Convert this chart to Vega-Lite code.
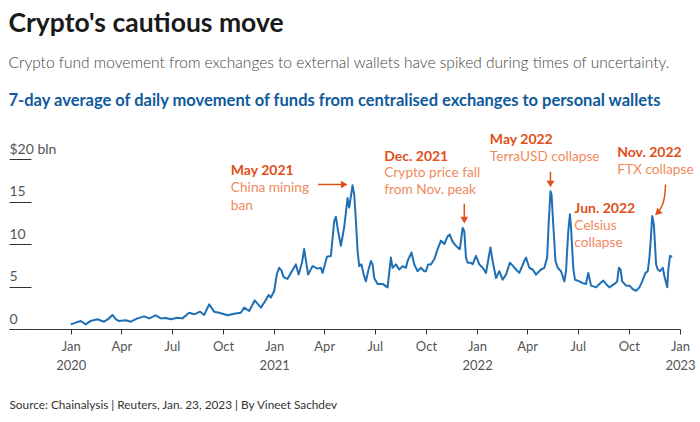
{
  "$schema": "https://vega.github.io/schema/vega-lite/v6.json",
  "background": "white",
  "padding": {"left": 8, "top": 10, "right": 8, "bottom": 8},
  "title": {
    "text": "Crypto's cautious move",
    "subtitle": "Crypto fund movement from exchanges to external wallets have spiked during times of uncertainty.",
    "anchor": "start",
    "font": "Lato",
    "fontSize": 26.5,
    "fontWeight": "bold",
    "color": "#1a1a1a",
    "subtitleFont": "Lato",
    "subtitleFontSize": 15.5,
    "subtitleFontWeight": 300,
    "subtitleColor": "#444444",
    "subtitlePadding": 19,
    "offset": 21
  },
  "datasets": {
    "series": [
      {"date": "2020-01-01", "value": 0.55}, {"date": "2020-01-10", "value": 0.75}, {"date": "2020-01-19", "value": 0.94},
      {"date": "2020-01-28", "value": 0.55}, {"date": "2020-02-06", "value": 0.95}, {"date": "2020-02-18", "value": 1.14},
      {"date": "2020-02-24", "value": 1.0}, {"date": "2020-03-01", "value": 0.86}, {"date": "2020-03-09", "value": 1.2},
      {"date": "2020-03-16", "value": 1.65}, {"date": "2020-03-22", "value": 1.15}, {"date": "2020-03-28", "value": 0.94},
      {"date": "2020-04-09", "value": 1.02}, {"date": "2020-04-18", "value": 0.86}, {"date": "2020-04-30", "value": 1.25},
      {"date": "2020-05-12", "value": 1.49}, {"date": "2020-05-21", "value": 1.25}, {"date": "2020-06-02", "value": 1.61},
      {"date": "2020-06-11", "value": 1.25}, {"date": "2020-06-20", "value": 1.3}, {"date": "2020-06-29", "value": 1.14},
      {"date": "2020-07-11", "value": 1.33}, {"date": "2020-07-20", "value": 1.25}, {"date": "2020-08-01", "value": 1.92},
      {"date": "2020-08-10", "value": 1.73}, {"date": "2020-08-21", "value": 2.04}, {"date": "2020-08-28", "value": 1.65},
      {"date": "2020-09-06", "value": 2.9}, {"date": "2020-09-15", "value": 2.04}, {"date": "2020-09-24", "value": 1.92},
      {"date": "2020-10-09", "value": 1.61}, {"date": "2020-10-21", "value": 1.8}, {"date": "2020-11-02", "value": 1.92},
      {"date": "2020-11-08", "value": 2.51}, {"date": "2020-11-17", "value": 2.12}, {"date": "2020-11-27", "value": 3.37},
      {"date": "2020-12-08", "value": 2.51}, {"date": "2020-12-14", "value": 3.1}, {"date": "2020-12-22", "value": 4.0},
      {"date": "2020-12-26", "value": 3.7}, {"date": "2021-01-01", "value": 4.47}, {"date": "2021-01-06", "value": 6.5},
      {"date": "2021-01-10", "value": 7.2}, {"date": "2021-01-14", "value": 6.9}, {"date": "2021-01-18", "value": 6.1},
      {"date": "2021-01-25", "value": 5.9}, {"date": "2021-01-31", "value": 6.6}, {"date": "2021-02-09", "value": 7.6},
      {"date": "2021-02-14", "value": 6.4}, {"date": "2021-02-20", "value": 7.8}, {"date": "2021-02-24", "value": 9.4},
      {"date": "2021-03-03", "value": 6.4}, {"date": "2021-03-11", "value": 7.4}, {"date": "2021-03-20", "value": 7.1},
      {"date": "2021-03-26", "value": 7.2}, {"date": "2021-03-29", "value": 6.6}, {"date": "2021-04-06", "value": 8.5},
      {"date": "2021-04-13", "value": 8.6}, {"date": "2021-04-19", "value": 12.7}, {"date": "2021-04-22", "value": 13.2},
      {"date": "2021-04-26", "value": 11.5}, {"date": "2021-05-01", "value": 9.8}, {"date": "2021-05-07", "value": 12.0},
      {"date": "2021-05-13", "value": 15.4}, {"date": "2021-05-16", "value": 14.3}, {"date": "2021-05-22", "value": 16.9},
      {"date": "2021-05-25", "value": 15.8}, {"date": "2021-05-28", "value": 12.7}, {"date": "2021-05-31", "value": 9.2},
      {"date": "2021-06-03", "value": 7.4}, {"date": "2021-06-07", "value": 7.6}, {"date": "2021-06-11", "value": 6.4},
      {"date": "2021-06-15", "value": 5.6}, {"date": "2021-06-19", "value": 6.8}, {"date": "2021-06-24", "value": 8.0},
      {"date": "2021-06-27", "value": 7.6}, {"date": "2021-06-30", "value": 6.0}, {"date": "2021-07-06", "value": 5.3},
      {"date": "2021-07-15", "value": 5.3}, {"date": "2021-07-24", "value": 4.9}, {"date": "2021-07-30", "value": 8.4},
      {"date": "2021-08-02", "value": 7.2}, {"date": "2021-08-08", "value": 7.6}, {"date": "2021-08-14", "value": 7.0},
      {"date": "2021-08-20", "value": 7.4}, {"date": "2021-08-26", "value": 7.2}, {"date": "2021-08-29", "value": 8.0},
      {"date": "2021-09-05", "value": 9.0}, {"date": "2021-09-10", "value": 7.6}, {"date": "2021-09-16", "value": 6.8},
      {"date": "2021-09-22", "value": 7.2}, {"date": "2021-09-28", "value": 6.8}, {"date": "2021-10-01", "value": 6.8},
      {"date": "2021-10-05", "value": 7.6}, {"date": "2021-10-10", "value": 7.6}, {"date": "2021-10-16", "value": 8.2},
      {"date": "2021-10-22", "value": 9.4}, {"date": "2021-10-28", "value": 10.4}, {"date": "2021-11-03", "value": 10.0},
      {"date": "2021-11-09", "value": 10.9}, {"date": "2021-11-13", "value": 11.1}, {"date": "2021-11-17", "value": 10.4},
      {"date": "2021-11-21", "value": 10.0}, {"date": "2021-11-27", "value": 9.6}, {"date": "2021-12-01", "value": 9.4},
      {"date": "2021-12-06", "value": 11.9}, {"date": "2021-12-09", "value": 11.5}, {"date": "2021-12-12", "value": 8.4},
      {"date": "2021-12-15", "value": 7.8}, {"date": "2021-12-21", "value": 7.8}, {"date": "2021-12-24", "value": 7.6},
      {"date": "2021-12-30", "value": 8.6}, {"date": "2022-01-05", "value": 7.6}, {"date": "2022-01-11", "value": 7.2},
      {"date": "2022-01-17", "value": 6.6}, {"date": "2022-01-25", "value": 9.6}, {"date": "2022-01-29", "value": 8.0},
      {"date": "2022-02-04", "value": 6.0}, {"date": "2022-02-10", "value": 6.8}, {"date": "2022-02-16", "value": 5.8},
      {"date": "2022-02-22", "value": 6.4}, {"date": "2022-03-01", "value": 7.8}, {"date": "2022-03-07", "value": 7.4},
      {"date": "2022-03-12", "value": 7.0}, {"date": "2022-03-18", "value": 6.6}, {"date": "2022-03-27", "value": 8.0},
      {"date": "2022-03-30", "value": 8.4}, {"date": "2022-04-05", "value": 7.2}, {"date": "2022-04-11", "value": 7.0},
      {"date": "2022-04-17", "value": 6.4}, {"date": "2022-04-26", "value": 7.0}, {"date": "2022-05-02", "value": 7.2},
      {"date": "2022-05-07", "value": 8.4}, {"date": "2022-05-10", "value": 12.7}, {"date": "2022-05-13", "value": 16.2},
      {"date": "2022-05-15", "value": 15.8}, {"date": "2022-05-18", "value": 12.3}, {"date": "2022-05-22", "value": 8.0},
      {"date": "2022-05-26", "value": 7.2}, {"date": "2022-06-01", "value": 6.8}, {"date": "2022-06-07", "value": 5.6},
      {"date": "2022-06-10", "value": 6.8}, {"date": "2022-06-14", "value": 11.5}, {"date": "2022-06-17", "value": 13.5},
      {"date": "2022-06-19", "value": 11.9}, {"date": "2022-06-23", "value": 7.2}, {"date": "2022-06-26", "value": 5.8},
      {"date": "2022-07-04", "value": 5.6}, {"date": "2022-07-10", "value": 5.4}, {"date": "2022-07-16", "value": 5.3},
      {"date": "2022-07-20", "value": 6.6}, {"date": "2022-07-25", "value": 5.1}, {"date": "2022-08-03", "value": 4.9},
      {"date": "2022-08-09", "value": 5.3}, {"date": "2022-08-16", "value": 5.7}, {"date": "2022-08-21", "value": 5.3},
      {"date": "2022-08-27", "value": 4.9}, {"date": "2022-09-05", "value": 5.3}, {"date": "2022-09-10", "value": 5.6},
      {"date": "2022-09-13", "value": 7.2}, {"date": "2022-09-16", "value": 7.0}, {"date": "2022-09-19", "value": 5.6},
      {"date": "2022-09-26", "value": 5.1}, {"date": "2022-10-02", "value": 5.1}, {"date": "2022-10-08", "value": 4.7},
      {"date": "2022-10-14", "value": 4.5}, {"date": "2022-10-20", "value": 4.9}, {"date": "2022-10-25", "value": 5.6},
      {"date": "2022-10-31", "value": 6.6}, {"date": "2022-11-04", "value": 6.8}, {"date": "2022-11-07", "value": 8.4},
      {"date": "2022-11-10", "value": 11.1}, {"date": "2022-11-12", "value": 13.3}, {"date": "2022-11-15", "value": 12.3},
      {"date": "2022-11-19", "value": 7.6}, {"date": "2022-11-22", "value": 7.0}, {"date": "2022-11-26", "value": 6.8},
      {"date": "2022-12-01", "value": 7.2}, {"date": "2022-12-04", "value": 6.2}, {"date": "2022-12-09", "value": 4.9},
      {"date": "2022-12-11", "value": 7.0}, {"date": "2022-12-14", "value": 8.6}, {"date": "2022-12-18", "value": 8.5}
    ],
    "notes": [
      {"date": "2020-10-15", "value": 18.6, "label": "May 2021", "kind": "head"},
      {"date": "2020-10-15", "value": 16.6, "label": "China mining", "kind": "body"},
      {"date": "2020-10-15", "value": 14.5, "label": "ban", "kind": "body"},
      {"date": "2021-07-18", "value": 20.2, "label": "Dec. 2021", "kind": "head"},
      {"date": "2021-07-18", "value": 18.3, "label": "Crypto price fall", "kind": "body"},
      {"date": "2021-07-18", "value": 16.3, "label": "from Nov. peak", "kind": "body"},
      {"date": "2022-01-24", "value": 22.2, "label": "May 2022", "kind": "head"},
      {"date": "2022-01-24", "value": 20.2, "label": "TerraUSD collapse", "kind": "body"},
      {"date": "2022-06-25", "value": 14.1, "label": "Jun. 2022", "kind": "head"},
      {"date": "2022-06-25", "value": 12.1, "label": "Celsius", "kind": "body"},
      {"date": "2022-06-25", "value": 10.1, "label": "collapse", "kind": "body"},
      {"date": "2022-09-10", "value": 20.7, "label": "Nov. 2022", "kind": "head"},
      {"date": "2022-09-10", "value": 18.7, "label": "FTX collapse", "kind": "body"}
    ],
    "shafts": [
      {"date": "2021-03-21", "date2": "2021-05-07", "value": 17.0, "value2": 17.0},
      {"date": "2021-12-09", "date2": "2021-12-09", "value": 14.74, "value2": 12.9},
      {"date": "2022-05-13", "date2": "2022-05-13", "value": 18.5, "value2": 17.1}
    ],
    "curve": [
      {"i": 1, "date": "2022-12-06", "value": 17.0},
      {"i": 2, "date": "2022-12-05", "value": 15.6},
      {"i": 3, "date": "2022-11-30", "value": 14.4},
      {"i": 4, "date": "2022-11-23", "value": 13.8}
    ],
    "headRight": [{"date": "2021-05-07", "value": 17.0}],
    "headDown": [
      {"date": "2021-12-09", "value": 12.8},
      {"date": "2022-05-13", "value": 17.06}
    ],
    "headDiag": [{"date": "2022-11-23", "value": 13.76}]
  },
  "vconcat": [
    {
      "width": 671,
      "height": 170,
      "title": {
        "text": "7-day average of daily movement of funds from centralised exchanges to personal wallets",
        "anchor": "start",
        "font": "Lato",
        "fontSize": 16.5,
        "fontWeight": "bold",
        "color": "#0e5a9c",
        "offset": 24
      },
      "encoding": {
        "x": {
          "field": "date",
          "type": "temporal",
          "scale": {
            "type": "utc",
            "domain": [
              {"year": 2019, "month": 9, "date": 12, "utc": true},
              {"year": 2023, "month": 1, "date": 1, "utc": true}
            ]
          },
          "axis": {
            "values": [
              {"year": 2020, "month": 1, "date": 1, "utc": true},
              {"year": 2020, "month": 4, "date": 1, "utc": true},
              {"year": 2020, "month": 7, "date": 1, "utc": true},
              {"year": 2020, "month": 10, "date": 1, "utc": true},
              {"year": 2021, "month": 1, "date": 1, "utc": true},
              {"year": 2021, "month": 4, "date": 1, "utc": true},
              {"year": 2021, "month": 7, "date": 1, "utc": true},
              {"year": 2021, "month": 10, "date": 1, "utc": true},
              {"year": 2022, "month": 1, "date": 1, "utc": true},
              {"year": 2022, "month": 4, "date": 1, "utc": true},
              {"year": 2022, "month": 7, "date": 1, "utc": true},
              {"year": 2022, "month": 10, "date": 1, "utc": true},
              {"year": 2023, "month": 1, "date": 1, "utc": true}
            ],
            "grid": false,
            "domainColor": "#333333",
            "tickColor": "#333333",
            "tickSize": 5,
            "labelFont": "Lato",
            "labelFontSize": 13,
            "labelColor": "#555555",
            "labelPadding": 6,
            "labelLineHeight": 19,
            "labelFlush": false,
            "labelOverlap": false,
            "labelExpr": "utcmonth(datum.value) == 0 ? ['Jan', utcFormat(datum.value, '%Y')] : utcFormat(datum.value, '%b')",
            "title": "Source: Chainalysis | Reuters, Jan. 23, 2023 | By Vineet Sachdev",
            "titleAnchor": "start",
            "titleAlign": "left",
            "titleFont": "Lato",
            "titleFontSize": 11.8,
            "titleFontWeight": "normal",
            "titleColor": "#333333",
            "titlePadding": 27
          }
        },
        "y": {
          "field": "value",
          "type": "quantitative",
          "scale": {"domain": [0, 20], "nice": false, "zero": true},
          "axis": {
            "values": [0, 5, 10, 15, 20],
            "domain": false,
            "grid": false,
            "ticks": true,
            "tickSize": -22,
            "tickColor": "#333333",
            "labelAlign": "left",
            "labelBaseline": "bottom",
            "labelPadding": 22,
            "labelOffset": -3,
            "labelFont": "Lato",
            "labelFontSize": 14,
            "labelColor": "#555555",
            "labelExpr": "datum.value == 20 ? '$20 bln' : datum.label",
            "title": null
          }
        }
      },
      "layer": [
        {
          "data": {"name": "series"},
          "mark": {"type": "line", "color": "#1f6fb5", "strokeWidth": 2, "strokeJoin": "round"}
        },
        {
          "data": {"name": "shafts"},
          "mark": {"type": "rule", "color": "#e0501a", "strokeWidth": 1.5},
          "encoding": {
            "x2": {"field": "date2"},
            "y2": {"field": "value2"}
          }
        },
        {
          "data": {"name": "curve"},
          "mark": {"type": "line", "color": "#e0501a", "strokeWidth": 1.5, "interpolate": "basis"},
          "encoding": {"order": {"field": "i", "type": "quantitative"}}
        },
        {
          "data": {"name": "headRight"},
          "mark": {"type": "point", "shape": "triangle-right", "filled": true, "color": "#e0501a", "size": 60, "opacity": 1}
        },
        {
          "data": {"name": "headDown"},
          "mark": {"type": "point", "shape": "triangle-down", "filled": true, "color": "#e0501a", "size": 60, "opacity": 1}
        },
        {
          "data": {"name": "headDiag"},
          "mark": {"type": "point", "shape": "triangle", "angle": 225, "filled": true, "color": "#e0501a", "size": 60, "opacity": 1}
        },
        {
          "data": {"name": "notes"},
          "transform": [{"filter": "datum.kind == 'head'"}],
          "mark": {"type": "text", "align": "left", "baseline": "middle", "font": "Lato", "fontSize": 14, "fontWeight": "bold", "color": "#e0501a"},
          "encoding": {"text": {"field": "label", "type": "nominal"}}
        },
        {
          "data": {"name": "notes"},
          "transform": [{"filter": "datum.kind == 'body'"}],
          "mark": {"type": "text", "align": "left", "baseline": "middle", "font": "Lato", "fontSize": 13.7, "fontWeight": "normal", "color": "#f08a5d"},
          "encoding": {"text": {"field": "label", "type": "nominal"}}
        }
      ]
    }
  ],
  "config": {
    "view": {"stroke": null},
    "concat": {"spacing": 0},
    "font": "Lato"
  }
}
